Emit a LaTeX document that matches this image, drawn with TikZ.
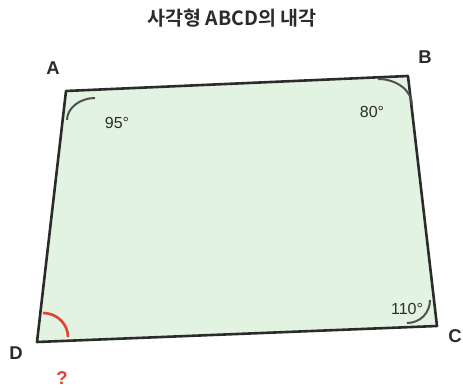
\documentclass[tikz,border=0pt]{standalone}
\usepackage{fontspec}
\setmainfont{Liberation Sans}
\newfontfamily\krfont{Noto Sans CJK KR}[BoldFont={Noto Sans CJK KR Bold}]
\definecolor{edgecol}{HTML}{2B2B2B}
\definecolor{fillcol}{HTML}{E3F3E2}
\definecolor{arccol}{HTML}{505050}
\definecolor{redcol}{HTML}{E8402E}
\begin{document}
\begin{tikzpicture}[x=1pt,y=-1pt,
  vlabel/.style={font=\fontsize{18.5}{22}\selectfont\bfseries, text=edgecol},
  alabel/.style={font=\fontsize{16}{19}\selectfont, text=edgecol},
  anglearc/.style={draw=arccol, line width=2pt},
  redarc/.style={draw=redcol, line width=2.6pt}]
\useasboundingbox (0,0) rectangle (463,390);
\coordinate (A) at (66,91);
\coordinate (B) at (408,76);
\coordinate (C) at (437,326);
\coordinate (D) at (37,342);
\draw[fill=fillcol, draw=edgecol, line width=2.6pt, line join=round] (A) -- (B) -- (C) -- (D) -- cycle;
% title
\node[font=\krfont\fontsize{19.5}{23}\selectfont\bfseries, text=edgecol] (title) at (232,18) {사각형 ABCD의 내각};
% vertex labels
\node[vlabel] (lA) at (53,68) {A};
\node[vlabel] (lB) at (425,57) {B};
\node[vlabel] (lC) at (455,336) {C};
\node[vlabel] (lD) at (16,353) {D};
% angle arcs
\draw[anglearc] (67,120) .. controls (67,108) and (80,98) .. (95,98);
\draw[anglearc] (378,79) .. controls (397,79) and (412,91) .. (412,105);
\draw[anglearc] (407,323) .. controls (420,323) and (430,313) .. (430,300);
\draw[redarc] (43,313) .. controls (57,313) and (68,324) .. (68,337);
% angle labels
\node[alabel] (aA) at (117,123) {95°};
\node[alabel] (aB) at (372,112) {80°};
\node[alabel] (aC) at (407,309) {110°};
\node[font=\fontsize{18.5}{22}\selectfont\bfseries, text=redcol] (q) at (62,378) {?};
\end{tikzpicture}
\end{document}
